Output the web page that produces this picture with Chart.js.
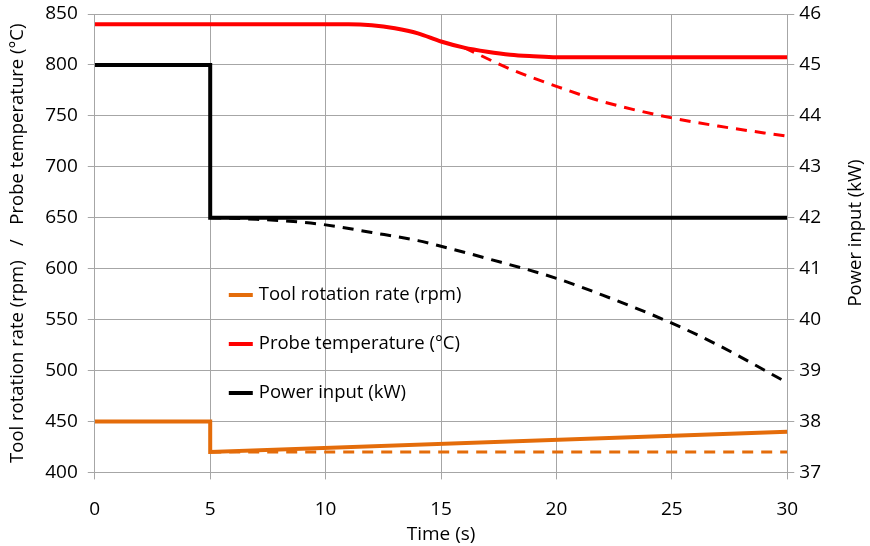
<!DOCTYPE html>
<html>
<head>
<meta charset="utf-8">
<script src="https://cdn.jsdelivr.net/npm/chart.js@4"></script>
<style>
  html, body { margin: 0; padding: 0; background: #fff; }
  #wrap { width: 870px; height: 546px; }
</style>
</head>
<body>
<div id="wrap"><canvas id="chart" width="870" height="546"></canvas></div>
<script>
// tool rotation rate (rpm), left axis
const rpmTime = [0, 5, 5, 30];
const rpmSolid = [450, 450, 420, 440];
const rpmDashTime = [5, 30];
const rpmDash = [420, 420];

// probe temperature (°C), left axis
const tempTime = [0, 11, 12, 13, 14, 15, 16, 17, 18, 19, 20, 30];
const tempSolid = [840, 840, 839, 836, 831, 823, 817, 813, 810, 808.5, 807.5, 807.5];
const tempDashTime = [16, 18, 20, 22, 25, 27, 30];
const tempDash = [817, 796, 779, 764, 748, 740, 730];

// power input (kW), right axis
const powerTime = [0, 5, 5, 30];
const powerSolid = [45, 45, 42, 42];
const powerDashTime = [5, 7, 9, 10, 12, 14, 15, 17, 20, 22, 25, 27, 30];
const powerDash = [42, 41.97, 41.91, 41.86, 41.71, 41.55, 41.44, 41.2, 40.81, 40.48, 39.93, 39.5, 38.76];

const legendLabels = ['Tool rotation rate (rpm)', 'Probe temperature (°C)', 'Power input (kW)'];
const rightTitle = 'Power input (kW)';

const ORANGE = '#E46C0A';
const RED = '#FF0000';
const BLACK = '#000000';
const GRID = '#a6a6a6';
const FONT = '"Open Sans", sans-serif';

const pts = (xs, ys) => xs.map((x, i) => ({ x, y: ys[i] }));

function line(data, color, axis, dashed, smooth) {
  return {
    data,
    yAxisID: axis,
    borderColor: color,
    borderWidth: dashed ? 3 : 4,
    borderDash: dashed ? [11, 8] : [],
    pointRadius: 0,
    fill: false,
    tension: smooth ? 0.4 : 0,
    cubicInterpolationMode: smooth ? 'monotone' : 'default',
  };
}

// tick padding also pads the top of vertical axes; keep the plot top where the original has it
const trimPad = (scale) => { scale.paddingTop = 14; scale.paddingBottom = 12; };

// legend inside the plot + right title reading bottom-to-top, as in the original
const extras = {
  id: 'extras',
  afterDraw(chart) {
    const { ctx, chartArea } = chart;
    const colors = [ORANGE, RED, BLACK];
    const x0 = chartArea.left + 134;
    const rows = [281, 330, 379];
    ctx.save();
    ctx.font = '18.5px ' + FONT;
    ctx.textBaseline = 'middle';
    legendLabels.forEach((label, i) => {
      const y = chartArea.top + rows[i];
      ctx.strokeStyle = colors[i];
      ctx.lineWidth = 4;
      ctx.beginPath();
      ctx.moveTo(x0, y);
      ctx.lineTo(x0 + 24, y);
      ctx.stroke();
      ctx.fillStyle = '#000';
      ctx.fillText(label, x0 + 30, y);
    });
    ctx.restore();

    ctx.save();
    ctx.font = '18.5px ' + FONT;
    ctx.fillStyle = '#000';
    ctx.textAlign = 'center';
    ctx.textBaseline = 'middle';
    ctx.translate(chart.width - 14, 233);
    ctx.rotate(-Math.PI / 2);
    ctx.fillText(rightTitle, 0, 0);
    ctx.restore();
  }
};

new Chart(document.getElementById('chart'), {
  type: 'line',
  data: {
    datasets: [
      line(pts(rpmTime, rpmSolid), ORANGE, 'y', false, false),
      line(pts(tempTime, tempSolid), RED, 'y', false, true),
      line(pts(powerTime, powerSolid), BLACK, 'y1', false, false),
      line(pts(rpmDashTime, rpmDash), ORANGE, 'y', true, false),
      line(pts(tempDashTime, tempDash), RED, 'y', true, true),
      line(pts(powerDashTime, powerDash), BLACK, 'y1', true, true),
    ]
  },
  options: {
    responsive: false,
    animation: false,
    layout: { padding: { top: 1, right: 44, bottom: 0, left: 3 } },
    plugins: {
      legend: { display: false },
      tooltip: { enabled: false },
    },
    scales: {
      x: {
        type: 'linear',
        min: 0,
        max: 30,
        ticks: { stepSize: 5, color: '#000', font: { family: FONT, size: 19 }, padding: 19 },
        grid: { color: GRID, lineWidth: 1, tickLength: 7 },
        border: { color: GRID },
        title: { display: true, text: 'Time (s)', color: '#000', font: { family: FONT, size: 19 }, padding: { top: -17, bottom: 0 } },
      },
      y: {
        position: 'left',
        min: 400,
        max: 850,
        afterFit: trimPad,
        ticks: { stepSize: 50, color: '#000', font: { family: FONT, size: 19 }, padding: 10 },
        grid: { color: GRID, lineWidth: 1, tickLength: 7 },
        border: { color: GRID },
        title: {
          display: true,
          text: 'Tool rotation rate (rpm)   /   Probe temperature (°C)',
          color: '#000',
          font: { family: FONT, size: 18.5 },
          padding: { top: 4, bottom: 6 },
        },
      },
      y1: {
        position: 'right',
        min: 37,
        max: 46,
        afterFit: trimPad,
        ticks: { stepSize: 1, color: '#000', font: { family: FONT, size: 19 }, padding: 5 },
        grid: { drawOnChartArea: false, color: GRID, tickLength: 7 },
        border: { color: GRID },
      },
    },
  },
  plugins: [extras],
});
</script>
</body>
</html>
